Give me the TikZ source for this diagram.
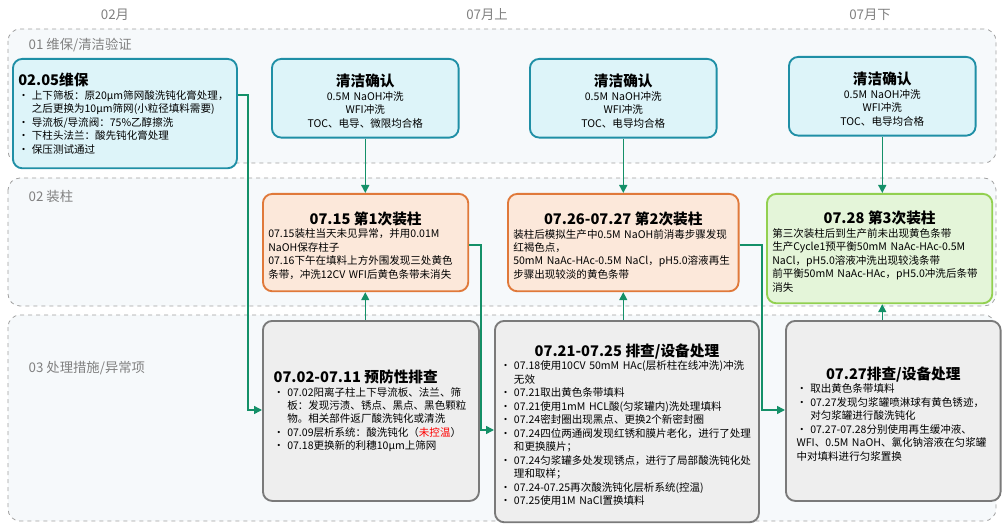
\documentclass[tikz,border=0pt]{standalone}
\usepackage{fontspec}
\setmainfont{Noto Sans CJK SC}
\usetikzlibrary{arrows.meta}
\XeTeXlinebreaklocale "zh"
\XeTeXlinebreakskip=0pt

\definecolor{bandfill}{HTML}{F6F9FB}
\definecolor{bandline}{HTML}{A0A0A0}
\definecolor{cyanfill}{HTML}{DDF4F9}
\definecolor{cyanline}{HTML}{1F8FA6}
\definecolor{orfill}{HTML}{FCE8DA}
\definecolor{orline}{HTML}{E0793A}
\definecolor{grfill}{HTML}{E4F5D9}
\definecolor{grline}{HTML}{92D050}
\definecolor{gyfill}{HTML}{EEEEEE}
\definecolor{gyline}{HTML}{7A7A7A}
\definecolor{flow}{HTML}{149068}

\newcommand{\itm}{\par\hangindent=1.3em\hangafter=1\noindent\makebox[1.3em][l]{•}}
\newcommand{\ttl}[1]{\par{\centering\fontsize{11}{14}\selectfont\bfseries #1\par}}

\tikzstyle{band}=[draw=bandline,dashed,fill=bandfill,rounded corners=9pt,line width=0.6pt]
\tikzstyle{bandlabel}=[anchor=west,text=gray,font=\fontsize{10}{12}\selectfont]
\tikzstyle{box}=[anchor=north west,rounded corners=7pt,line width=1.4pt,align=left,
  font=\fontsize{7.9}{10.1}\selectfont,inner sep=4pt]
\tikzstyle{clean}=[box,draw=cyanline,fill=cyanfill,align=center]
\tikzstyle{load}=[box,draw=orline,fill=orfill]
\tikzstyle{loadok}=[box,draw=grline,fill=grfill]
\tikzstyle{check}=[box,draw=gyline,fill=gyfill]
\tikzstyle{flowedge}=[-{Triangle[length=6pt,width=6pt]},draw=flow,line width=1.1pt]

\begin{document}
\begin{tikzpicture}[x=0.75pt,y=-0.75pt]
\useasboundingbox (0,0) rectangle (1006,527);
% months
\node[text=gray,font=\fontsize{10}{12}\selectfont] (m1) at (115,15) {02月};
\node[text=gray,font=\fontsize{10}{12}\selectfont] (m2) at (487,15) {07月上};
\node[text=gray,font=\fontsize{10}{12}\selectfont] (m3) at (870,15) {07月下};
% bands
\draw[band] (8,29) rectangle (996,163);
\draw[band] (8,178) rectangle (996,306);
\draw[band] (8,315) rectangle (996,521);
\node[bandlabel] (b1) at (24,45) {01 维保/清洁验证};
\node[bandlabel] (b2) at (24,196) {02 装柱};
\node[bandlabel] (b3) at (24,368) {03 处理措施/异常项};
% 1st row
\node[box,draw=cyanline,fill=cyanfill,text width=160pt,minimum height=82pt] (mnt) at (12,58)
  {{\fontsize{11}{13}\selectfont\bfseries 02.05维保\par}
   \itm 上下筛板：原20μm筛网酸洗钝化膏处理，之后更换为10μm筛网(小粒径填料需要)
   \itm 导流板/导流阀：75\%乙醇擦洗
   \itm 下柱头法兰：酸先钝化膏处理
   \itm 保压测试通过};
\node[clean,text width=132pt,minimum height=59pt] (cl1) at (271,58)
  {\ttl{清洁确认}0.5M NaOH冲洗\\WFI冲洗\\TOC、电导、微限均合格};
\node[clean,text width=132pt,minimum height=59pt] (cl2) at (529,58)
  {\ttl{清洁确认}0.5M NaOH冲洗\\WFI冲洗\\TOC、电导均合格};
\node[clean,text width=132pt,minimum height=59pt] (cl3) at (788,56)
  {\ttl{清洁确认}0.5M NaOH冲洗\\WFI冲洗\\TOC、电导均合格};
% 2nd row
\node[load,text width=146pt,minimum height=73pt] (ld1) at (262,193)
  {\ttl{07.15 第1次装柱}07.15装柱当天未见异常，并用0.01M NaOH保存柱子\\
   07.16下午在填料上方外围发现三处黄色条带，冲洗12CV WFI后黄色条带未消失};
\node[load,text width=165pt,minimum height=73pt] (ld2) at (507,193)
  {\ttl{07.26-07.27 第2次装柱}装柱后模拟生产中0.5M NaOH前消毒步骤发现红褐色点，\\
   50mM NaAc-HAc-0.5M NaCl，pH5.0溶液再生步骤出现较淡的黄色条带};
\node[loadok,text width=161pt,minimum height=82pt] (ld3) at (766,193)
  {\ttl{07.28 第3次装柱}第三次装柱后到生产前未出现黄色条带\\
   生产Cycle1预平衡50mM NaAc-HAc-0.5M NaCl，pH5.0溶液冲洗出现较浅条带\\
   前平衡50mM NaAc-HAc，pH5.0冲洗后条带消失};
% 3rd row
\node[check,text width=146pt,minimum height=135pt,inner xsep=8pt] (ck1) at (262,320)
  {{\fontsize{11}{14}\selectfont\bfseries 07.02-07.11 预防性排查\par}
   \itm 07.02阳离子柱上下导流板、法兰、筛板：发现污渍、锈点、黑点、黑色颗粒物。相关部件返厂酸洗钝化或清洗
   \itm 07.09层析系统：酸洗钝化（\textcolor{red}{未控温}）
   \itm 07.18更换新的利穗10μm上筛网};
\node[check,text width=190pt,minimum height=151pt] (ck2) at (494,320)
  {\ttl{07.21-07.25 排查/设备处理}
   \itm 07.18使用10CV 50mM HAc(层析柱在线冲洗)冲洗无效
   \itm 07.21取出黄色条带填料
   \itm 07.21使用1mM HCL酸(匀浆罐内)洗处理填料
   \itm 07.24密封圈出现黑点、更换2个新密封圈
   \itm 07.24四位两通阀发现红锈和膜片老化，进行了处理和更换膜片；
   \itm 07.24匀浆罐多处发现锈点，进行了局部酸洗钝化处理和取样；
   \itm 07.24-07.25再次酸洗钝化层析系统(控温)
   \itm 07.25使用1M NaCl置换填料};
\node[check,text width=145pt,minimum height=135pt,inner xsep=8pt] (ck3) at (785,320)
  {\ttl{07.27排查/设备处理}
   \itm 取出黄色条带填料
   \itm 07.27发现匀浆罐喷淋球有黄色锈迹，对匀浆罐进行酸洗钝化
   \itm 07.27-07.28分别使用再生缓冲液、WFI、0.5M NaOH、氯化钠溶液在匀浆罐中对填料进行匀浆置换};
% connectors
\draw[flowedge] (cl1.south) -- (ld1.north -| cl1.south);
\draw[flowedge] (cl2.south) -- (ld2.north -| cl2.south);
\draw[flowedge] (cl3.south) -- (ld3.north -| cl3.south);
\draw[flowedge] (ck1.north -| cl1.south) -- (ld1.south -| cl1.south);
\draw[flowedge] (ck2.north -| cl2.south) -- (ld2.south -| cl2.south);
\draw[flowedge] (ck3.north -| cl3.south) -- (ld3.south -| cl3.south);
\coordinate (j1) at (248,410);
\coordinate (j2) at (481,430);
\coordinate (j3) at (762,410);
\draw[flowedge] (mnt.east |- 0,95) -| (j1) -- (ck1.west |- j1);
\draw[flowedge] (ld1.east |- 0,245) -| (j2) -- (ck2.west |- j2);
\draw[flowedge] (ld2.east |- 0,245) -| (j3) -- (ck3.west |- j3);
\end{tikzpicture}
\end{document}
